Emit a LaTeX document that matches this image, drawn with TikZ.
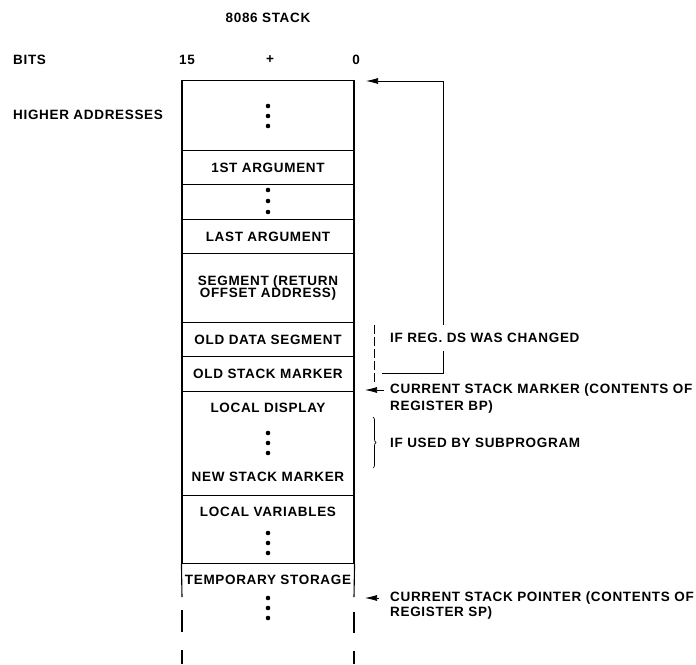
\documentclass[tikz,border=0pt]{standalone}
\usepackage{fontspec}
\setmainfont[LetterSpace=5]{Liberation Sans}
\usetikzlibrary{arrows.meta,decorations.pathreplacing}
\begin{document}
\begin{tikzpicture}[x=1pt,y=-1pt,
  txt/.style={font=\fontsize{13.5}{14}\selectfont\bfseries, inner sep=0},
  cell/.style={draw, line width=1.1pt, minimum width=172pt, inner sep=0, anchor=north,
    font=\fontsize{13.5}{14}\selectfont\bfseries, align=center},
  side/.style={line width=1.1pt},
  dotn/.style={circle, fill, inner sep=0, minimum size=4.6pt},
  conn/.style={line width=0.7pt},
  tipar/.style={-{Latex[length=12pt,width=6pt]}}
]
\useasboundingbox (0,0) rectangle (696,664);
% header
\node[txt] (title) at (268,18) {8086 STACK};
\node[txt, anchor=west] (bits) at (13,60) {BITS};
\node[txt] (b15) at (187,60) {15};
\node[txt] (bplus) at (270,60) {+};
\node[txt] (b0) at (356,60) {0};
\node[txt, anchor=west] (higher) at (13,115) {HIGHER ADDRESSES};
% stack cells
\node[cell, minimum height=70pt] (c1) at (268,80) {};
\node[cell, minimum height=34pt] (c2) at (268,150) {1ST ARGUMENT};
\node[cell, minimum height=35pt] (c3) at (268,184) {};
\node[cell, minimum height=34pt] (c4) at (268,219) {LAST ARGUMENT};
\node[cell, minimum height=69pt] (c5) at (268,253) {SEGMENT (RETURN\\[-2pt]OFFSET ADDRESS)};
\node[cell, minimum height=34pt] (c6) at (268,322) {OLD DATA SEGMENT};
\node[cell, minimum height=35pt] (c7) at (268,356) {OLD STACK MARKER};
\node[cell, minimum height=104pt] (c8) at (268,391) {};
\node[cell, minimum height=68pt] (c9) at (268,495) {};
% texts inside tall cells
\node[txt] (ldisp) at (268,408) {LOCAL DISPLAY};
\node[txt] (nsm) at (268,477) {NEW STACK MARKER};
\node[txt] (lvar) at (268,512) {LOCAL VARIABLES};
\node[txt] (tstor) at (268,580) {TEMPORARY STORAGE};
% open bottom of stack
\coordinate (l1) at (182,597); \coordinate (r1) at (354,597);
\coordinate (l2a) at (182,610); \coordinate (l2b) at (182,632);
\coordinate (r2a) at (354,612); \coordinate (r2b) at (354,633);
\coordinate (l3a) at (182,650); \coordinate (l3b) at (182,664);
\coordinate (r3a) at (354,651); \coordinate (r3b) at (354,664);
\draw[side] (c9.south west) -- (l1);
\draw[side] (c9.south east) -- (r1);
\draw[side] (l2a) -- (l2b);
\draw[side] (r2a) -- (r2b);
\draw[side] (l3a) -- (l3b);
\draw[side] (r3a) -- (r3b);
% dots
\foreach \n/\y in {a1/106,a2/116,a3/126, b1/190,b2/201,b3/212, e1/433,e2/443,e3/453,
                   f1/533,f2/543,f3/553, g1/598,g2/608,g3/618}
  \node[dotn] (dot\n) at (268,\y) {};
% right side annotations
\coordinate (loopB) at (382,373);
\coordinate (loopC) at (443,373);
\coordinate (loopD) at (443,81);
\coordinate (topTip) at (366,81);
\draw[conn, tipar] (loopB) -- (loopC) -- (loopD) -- (topTip);
\coordinate (dsA) at (374,325);
\coordinate (dsB) at (374,384);
\draw[conn, dash pattern=on 9pt off 3pt] (dsA) -- (dsB);
\node[txt, anchor=west, fill=white, inner xsep=0pt, inner ysep=8pt] (ifreg) at (390,338) {IF REG. DS WAS CHANGED};
\coordinate (bpTail) at (384,390);
\coordinate (bpTip) at (365,390);
\draw[conn, tipar] (bpTail) -- (bpTip);
\node[txt, anchor=west] (bp1) at (390,390) {CURRENT STACK MARKER (CONTENTS OF};
\node[txt, anchor=west] (bp2) at (390,407) {REGISTER BP)};
\coordinate (brA) at (373,417);
\coordinate (brB) at (373,468);
\draw[conn, decorate, decoration={brace, amplitude=3pt}] (brA) -- (brB);
\node[txt, anchor=west] (ifused) at (390,443) {IF USED BY SUBPROGRAM};
\coordinate (spTail) at (379,598);
\coordinate (spTip) at (365,598);
\draw[conn, tipar] (spTail) -- (spTip);
\node[txt, anchor=west] (sp1) at (390,598) {CURRENT STACK POINTER (CONTENTS OF};
\node[txt, anchor=west] (sp2) at (390,613) {REGISTER SP)};
\end{tikzpicture}
\end{document}
